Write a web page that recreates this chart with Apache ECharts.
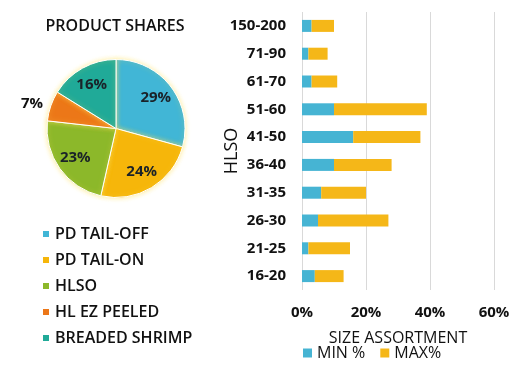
<!DOCTYPE html>
<html>
<head>
<meta charset="utf-8">
<script src="https://cdn.jsdelivr.net/npm/echarts@6/dist/echarts.min.js"></script>
<style>
html,body{margin:0;padding:0;background:#fff;}
#main{width:521px;height:369px;}
</style>
</head>
<body>
<div id="main"></div>
<script>
// Pie data
var productNames = ['PD TAIL-OFF', 'PD TAIL-ON', 'HLSO', 'HL EZ PEELED', 'BREADED SHRIMP'];
var productShares = [29, 24, 23, 7, 16];
var productColors = ['#41B6D6', '#F6B60A', '#8CB82A', '#EC7718', '#20AA98'];

// Bar data (bottom to top)
var sizeCategories = ['16-20', '21-25', '26-30', '31-35', '36-40', '41-50', '51-60', '61-70', '71-90', '150-200'];
var minPct = [4, 2, 5, 6, 10, 16, 10, 3, 2, 3];
var maxPct = [9, 13, 22, 14, 18, 21, 29, 8, 6, 7];
var xTicks = [0, 20, 40, 60];

var FONT = '"Open Sans", sans-serif';
var chart = echarts.init(document.getElementById('main'));

var visData = productNames.map(function (n, i) {
  return {
    name: n, value: productShares[i],
    itemStyle: { color: productColors[i] },
    label: { show: productShares[i] < 10 }
  };
});
var lblData = productNames.map(function (n, i) {
  return { name: n, value: productShares[i], label: { show: productShares[i] >= 10 } };
});

chart.setOption({
  animation: false,
  title: {
    text: 'PRODUCT SHARES', left: 115, top: 18, textAlign: 'center', padding: 0,
    textStyle: { fontFamily: FONT, fontSize: 16, fontWeight: 600, color: '#111' }
  },
  legend: [{
    data: productNames, orient: 'vertical', left: 41, top: 226, padding: 0,
    icon: 'rect', itemWidth: 8, itemHeight: 8, itemGap: 10,
    textStyle: { fontFamily: FONT, fontSize: 16, fontWeight: 600, color: '#111', lineHeight: 16 }
  }, {
    data: ['MIN %', 'MAX%'], orient: 'horizontal', left: 303, top: 345, padding: 0,
    icon: 'rect', itemWidth: 9, itemHeight: 9, itemGap: 15,
    textStyle: { fontFamily: FONT, fontSize: 16, color: '#111', lineHeight: 16 }
  }],
  grid: { left: 302, right: 27, top: 12, bottom: 79 },
  xAxis: {
    type: 'value', min: 0, max: 60, interval: 20,
    name: 'SIZE ASSORTMENT', nameLocation: 'middle', nameGap: 40,
    nameTextStyle: { fontFamily: FONT, fontSize: 16, color: '#111' },
    axisLine: { show: false }, axisTick: { show: false },
    axisLabel: { margin: 15, fontFamily: FONT, fontSize: 15, fontWeight: 'bold', color: '#111',
      formatter: function (v) { return v + '%'; } },
    splitLine: { show: true, lineStyle: { color: '#d9d9d9', width: 1 } }
  },
  yAxis: {
    type: 'category', data: sizeCategories,
    name: 'HLSO', nameLocation: 'middle', nameGap: 61, nameRotate: 90, nameMoveOverlap: false,
    nameTextStyle: { fontFamily: FONT, fontSize: 18, color: '#111' },
    axisLine: { show: false }, axisTick: { show: false },
    axisLabel: { margin: 16, fontFamily: FONT, fontSize: 15, fontWeight: 'bold', color: '#111' }
  },
  series: [{
    type: 'pie', name: 'shares', center: [116, 128.5], radius: 69,
    startAngle: 90, clockwise: true,
    data: visData,
    itemStyle: { borderColor: '#fff', borderWidth: 1, shadowBlur: 5, shadowColor: 'rgba(255,225,90,0.6)' },
    label: { position: 'outside', formatter: '{c}%', fontFamily: FONT, fontSize: 15, fontWeight: 'bold', color: '#111', distanceToLabelLine: 2 },
    labelLine: { show: false, length: 6, length2: 0 }
  }, {
    type: 'pie', name: 'labels', center: [116, 128.5], radius: 94,
    startAngle: 90, clockwise: true, silent: true,
    data: lblData,
    itemStyle: { color: 'rgba(0,0,0,0)' },
    label: { position: 'inside', formatter: '{c}%', fontFamily: FONT, fontSize: 15, fontWeight: 'bold', color: '#1a2228' },
    labelLine: { show: false }
  }, {
    type: 'bar', name: 'MIN %', stack: 'a', data: minPct, barWidth: 12,
    itemStyle: { color: '#46B4D3' }
  }, {
    type: 'bar', name: 'MAX%', stack: 'a', data: maxPct, barWidth: 12,
    itemStyle: { color: '#F5B718' }
  }]
});
</script>
</body>
</html>
